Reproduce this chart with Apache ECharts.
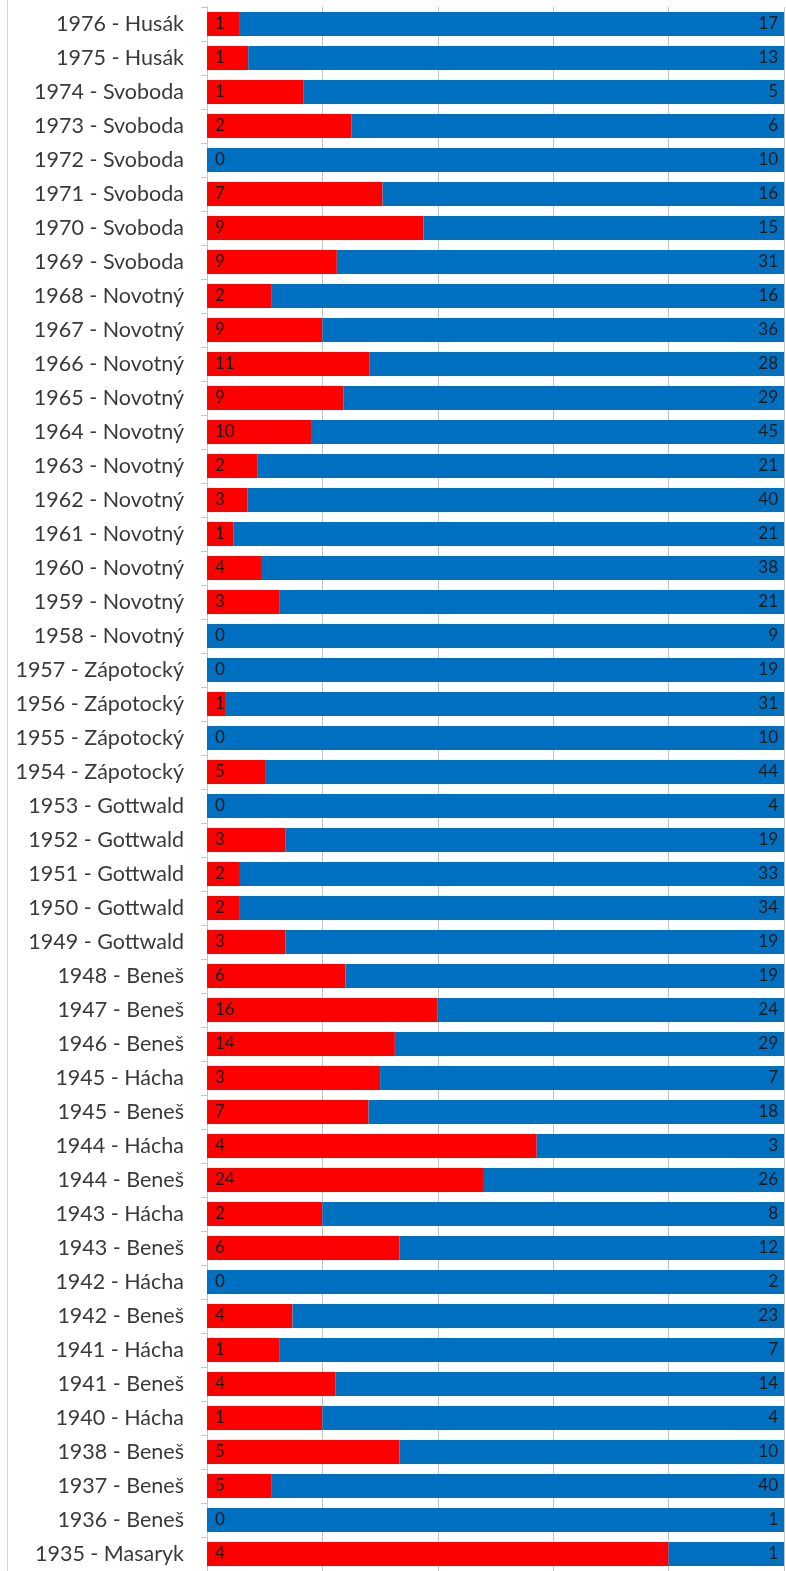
<!DOCTYPE html>
<html>
<head>
<meta charset="utf-8">
<script src="https://cdn.jsdelivr.net/npm/echarts@6/dist/echarts.min.js"></script>
<style>
html,body{margin:0;padding:0;background:#fff;}
#wrap{position:relative;width:786px;height:1571px;}
#edge{position:absolute;left:7px;top:0;width:1px;height:1571px;background:#d4d4d4;}
#chart{position:absolute;left:0;top:0;width:786px;height:1571px;}
</style>
</head>
<body>
<div id="wrap"><div id="edge"></div><div id="chart"></div></div>
<script>
const categories = [
"1976 - Husák","1975 - Husák","1974 - Svoboda","1973 - Svoboda","1972 - Svoboda","1971 - Svoboda","1970 - Svoboda","1969 - Svoboda",
"1968 - Novotný","1967 - Novotný","1966 - Novotný","1965 - Novotný","1964 - Novotný","1963 - Novotný","1962 - Novotný","1961 - Novotný",
"1960 - Novotný","1959 - Novotný","1958 - Novotný","1957 - Zápotocký","1956 - Zápotocký","1955 - Zápotocký","1954 - Zápotocký",
"1953 - Gottwald","1952 - Gottwald","1951 - Gottwald","1950 - Gottwald","1949 - Gottwald","1948 - Beneš","1947 - Beneš","1946 - Beneš",
"1945 - Hácha","1945 - Beneš","1944 - Hácha","1944 - Beneš","1943 - Hácha","1943 - Beneš","1942 - Hácha","1942 - Beneš","1941 - Hácha",
"1941 - Beneš","1940 - Hácha","1938 - Beneš","1937 - Beneš","1936 - Beneš","1935 - Masaryk"
];
const redValues = [1,1,1,2,0,7,9,9, 2,9,11,9,10,2,3,1, 4,3,0,0,1,0,5, 0,3,2,2,3,6,16,14, 3,7,4,24,2,6,0,4,1, 4,1,5,5,0,4];
const blueValues = [17,13,5,6,10,16,15,31, 16,36,28,29,45,21,40,21, 38,21,9,19,31,10,44, 4,19,33,34,19,19,24,29, 7,18,3,26,8,12,2,23,7, 14,4,10,40,1,1];
const xTicks = [0,20,40,60,80,100];

const pct = (a, b, i) => {
  const t = redValues[i] + blueValues[i];
  return t ? a / t * 100 : 0;
};
const redData = redValues.map((v, i) => ({ value: pct(v, blueValues[i], i), raw: v }));
const blueData = blueValues.map((v, i) => ({ value: pct(v, redValues[i], i), raw: v }));

const chart = echarts.init(document.getElementById('chart'), null, { renderer: 'canvas' });
const labelFont = { fontFamily: 'Lato', fontSize: 17, color: '#1a1a1a' };
chart.setOption({
  animation: false,
  grid: { left: 207, right: 2, top: 7, bottom: 0, containLabel: false },
  xAxis: {
    type: 'value', min: xTicks[0], max: xTicks[xTicks.length - 1], interval: xTicks[1] - xTicks[0],
    axisLabel: { show: false }, axisLine: { show: false }, axisTick: { show: false },
    splitLine: { show: true, lineStyle: { color: '#c4c4c4', width: 1 } }
  },
  yAxis: {
    type: 'category', data: categories, inverse: true,
    axisLine: { show: true, lineStyle: { color: '#c4c4c4', width: 1 } },
    axisTick: { show: true, length: 6, lineStyle: { color: '#c4c4c4' } },
    axisLabel: { fontFamily: 'Lato', fontSize: 21.5, color: '#3a3a3a', margin: 23 }
  },
  series: [
    {
      type: 'bar', stack: 's', data: redData, barWidth: 24,
      itemStyle: { color: '#ff0000' },
      label: { show: true, position: 'insideLeft', distance: 8, formatter: p => p.data.raw, ...labelFont }
    },
    {
      type: 'bar', stack: 's', data: blueData, barWidth: 24,
      itemStyle: { color: '#0070c0' },
      label: { show: true, position: 'insideRight', distance: 6, formatter: p => p.data.raw, ...labelFont }
    }
  ]
});
</script>
</body>
</html>
